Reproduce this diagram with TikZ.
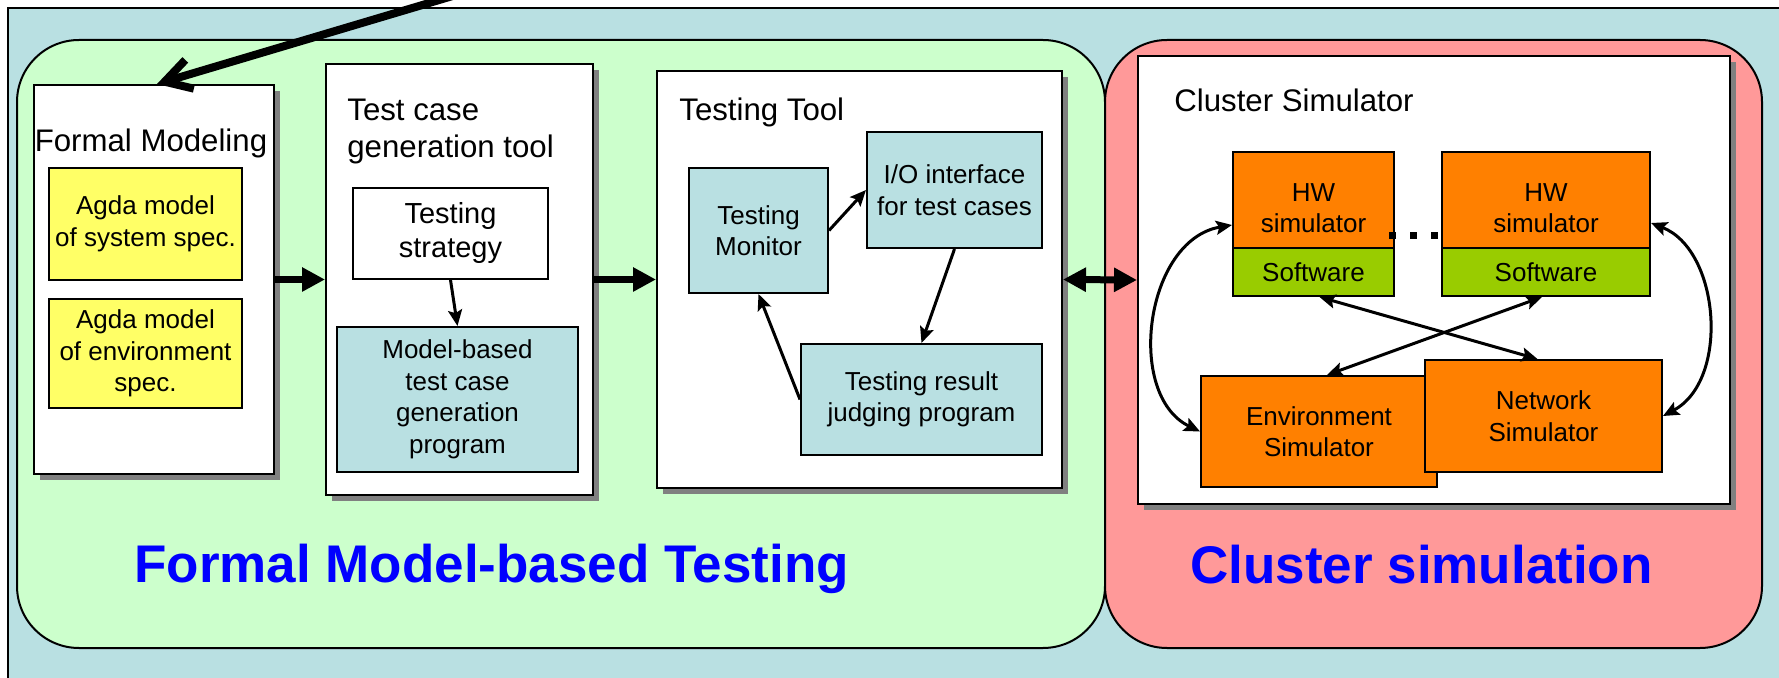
\documentclass[tikz,border=0pt]{standalone}
\usepackage{fontspec}
\setmainfont{Liberation Sans}
\usetikzlibrary{arrows.meta,shadows}
\definecolor{outerblue}{RGB}{185,224,226}
\definecolor{mintgreen}{RGB}{204,255,204}
\definecolor{pinkred}{RGB}{255,153,153}
\definecolor{lemon}{RGB}{255,255,102}
\definecolor{hworange}{RGB}{255,128,0}
\definecolor{swgreen}{RGB}{153,204,0}
\definecolor{shadowgray}{RGB}{128,128,128}
\definecolor{titleblue}{RGB}{0,0,255}
\newcommand{\dgInner}{\fontsize{13}{15.75}\selectfont}
\newcommand{\dgMid}{\fontsize{14.5}{17}\selectfont}
\newcommand{\dgTitle}{\fontsize{15.6}{18.5}\selectfont}
\newcommand{\dgBig}{\fontsize{26.5}{30}\selectfont\bfseries}
\begin{document}
\begin{tikzpicture}[x=0.5pt,y=-0.5pt,
  panel/.style={draw, line width=1pt, rounded corners=31pt},
  bigbox/.style={draw, line width=1pt, fill=white, inner sep=0pt,
    general shadow={fill=shadowgray, shadow xshift=3pt, shadow yshift=-3pt}},
  ibox/.style={draw, line width=1pt, inner sep=0pt, align=center, font=\dgInner},
  boxtitle/.style={inner sep=0pt, font=\dgTitle, align=left},
  bigtitle/.style={inner sep=0pt, font=\dgBig, text=titleblue},
  fatarrow/.style={line width=3.5pt, -{Triangle[length=11.5pt,width=11.5pt]}},
  fatdouble/.style={line width=3.5pt, {Triangle[length=11.5pt,width=11.5pt]}-{Triangle[length=11.5pt,width=11.5pt]}},
  thinarrow/.style={line width=1.5pt, -{Stealth[length=8pt,width=7pt,inset=1.5pt]}},
  thindouble/.style={line width=1.5pt, {Stealth[length=8pt,width=7pt,inset=1.5pt]}-{Stealth[length=8pt,width=7pt,inset=1.5pt]}},
]
\useasboundingbox (0,0) rectangle (1779,678);
\clip (0,0) rectangle (1779,678);

% background panels
\draw[line width=1pt, fill=outerblue] (8,8) rectangle (1790,720);
\draw[panel, fill=mintgreen] (17,40) rectangle (1105,648);
\draw[panel, fill=pinkred] (1105,40) rectangle (1762,648);

% Formal modeling
\node[bigbox, minimum width=120pt, minimum height=194.5pt] (formal) at (154,279.5) {};
\node[boxtitle, anchor=base] (formalt) at (151,152) {Formal Modeling};
\node[ibox, fill=lemon, minimum width=96.5pt, minimum height=56pt] (agda1) at (145.5,224) {Agda model\\of system spec.};
\node[ibox, fill=lemon, minimum width=96.5pt, minimum height=54.5pt] (agda2) at (145.5,353.5) {Agda model\\of environment\\spec.};

% Test case generation tool
\node[bigbox, minimum width=133.5pt, minimum height=215.5pt] (tcg) at (459.5,279.5) {};
\node[boxtitle, anchor=north west] (tcgt) at (347,98.7) {Test case\\generation tool};
\node[ibox, font=\dgMid, fill=white, minimum width=97.5pt, minimum height=45.5pt] (strat) at (450.5,233.5) {Testing\\strategy};
\node[ibox, fill=outerblue, minimum width=120.5pt, minimum height=72.5pt] (mbt) at (457.5,399.5) {Model-based\\test case\\generation\\program};

% Testing tool
\node[bigbox, minimum width=202.5pt, minimum height=208.5pt] (tool) at (859.5,279.5) {};
\node[boxtitle, anchor=base west] (toolt) at (679,121) {Testing Tool};
\node[ibox, fill=outerblue, minimum width=69.5pt, minimum height=62.5pt] (mon) at (758.5,230.5) {Testing\\Monitor};
\node[ibox, fill=outerblue, minimum width=87.5pt, minimum height=58pt] (io) at (954.5,190) {I/O interface\\for test cases};
\node[ibox, fill=outerblue, minimum width=120.5pt, minimum height=55.5pt] (judge) at (921.5,399.5) {Testing result\\judging program};

% Cluster simulator
\node[bigbox, minimum width=296pt, minimum height=224pt] (cluster) at (1434,280) {};
\node[boxtitle, anchor=base west] (clustert) at (1174,112) {Cluster Simulator};
\node[ibox, fill=hworange, minimum width=80.5pt, minimum height=48pt] (hw1) at (1313.5,200) {};
\node[ibox, fill=swgreen, minimum width=80.5pt, minimum height=24pt] (sw1) at (1313.5,272) {Software};
\node[ibox, fill=hworange, minimum width=104pt, minimum height=48pt] (hw2) at (1546,200) {};
\node[ibox, fill=swgreen, minimum width=104pt, minimum height=24pt] (sw2) at (1546,272) {Software};
\node[font=\dgInner, align=center, inner sep=0pt, anchor=north] (hw1t) at (1313.5,183) {HW\\simulator};
\node[font=\dgInner, align=center, inner sep=0pt, anchor=north] (hw2t) at (1546,183) {HW\\simulator};
\fill (1388.5,232.5) rectangle +(7,7);
\fill (1409.5,232.5) rectangle +(7,7);
\fill (1430.5,232.5) rectangle +(7,7);
\node[ibox, fill=hworange, minimum width=118pt, minimum height=55.5pt] (env) at (1319,431.5) {Environment\\Simulator};
\node[ibox, fill=hworange, minimum width=118.5pt, minimum height=56pt] (net) at (1543.5,416) {Network\\Simulator};

% connectors
\draw[fatarrow] (formal.east) -- (tcg.west);
\draw[fatarrow] (tcg.east) -- (tool.west);
\draw[fatdouble] (tool.east) -- (cluster.west);
\draw[thinarrow] (strat.south) -- (mbt.north);
\draw[thinarrow] (mon.east) -- (io.west);
\draw[thinarrow] (io.south) -- (judge.north);
\draw[thinarrow] (judge.west) -- (mon.south);
\draw[thindouble] ([xshift=3pt]sw1.south) -- ([xshift=-3pt]net.north);
\draw[thindouble] ([xshift=-2pt]sw2.south) -- ([xshift=4pt]env.north);
\draw[thindouble] ([yshift=-12.5pt]hw1.west) .. controls (1145,240) and (1125,395) .. (env.west);
\draw[thindouble] ([yshift=-11.5pt]hw2.east) .. controls (1720,250) and (1730,380) .. (net.east);

% big titles
\node[bigtitle, anchor=base west] (fmbt) at (134,582) {Formal Model-based Testing};
\node[bigtitle, anchor=base west] (csim) at (1190,583) {Cluster simulation};

% incoming arrow from above
\coordinate (topsrc) at (540,-30);
\draw[line width=4pt, -{Straight Barb[length=13pt,width=15pt]}] (topsrc) -- ([xshift=1.5pt]formal.north);
\end{tikzpicture}
\end{document}
